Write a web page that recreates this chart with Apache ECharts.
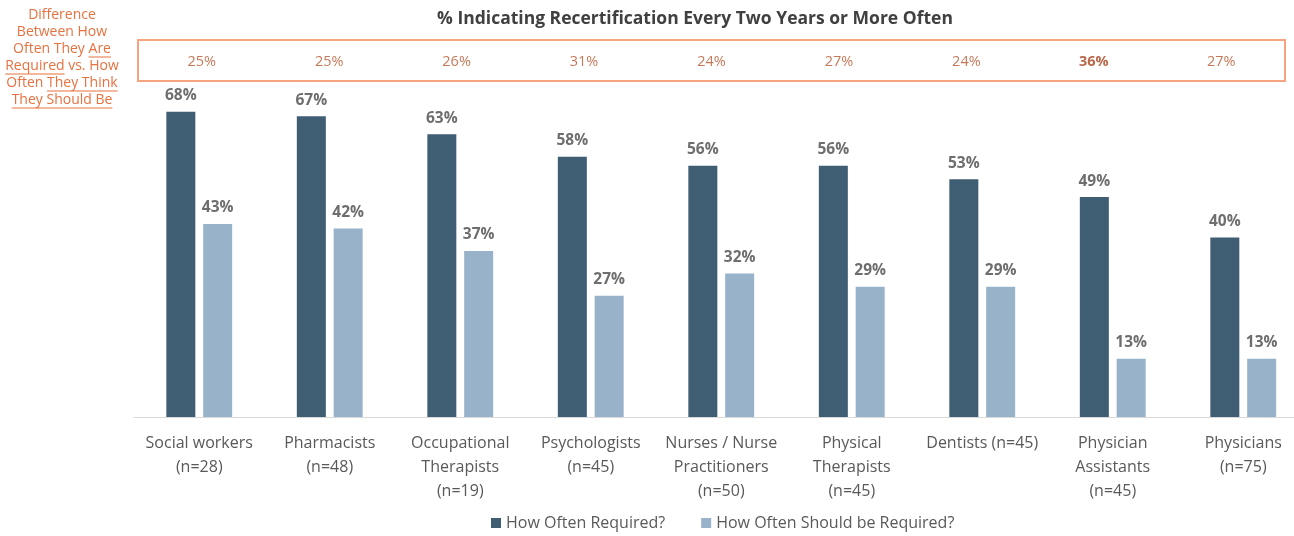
<!DOCTYPE html>
<html>
<head>
<meta charset="utf-8">
<script src="https://cdn.jsdelivr.net/npm/echarts@6/dist/echarts.min.js"></script>
<style>
  html, body { margin: 0; padding: 0; background: #fff; }
  #main { width: 1294px; height: 536px; }
</style>
</head>
<body>
<div id="main"></div>
<script>
// professions and sample sizes
var categories = [
    'Social workers\n(n=28)',
    'Pharmacists\n(n=48)',
    'Occupational\nTherapists\n(n=19)',
    'Psychologists\n(n=45)',
    'Nurses / Nurse\nPractitioners\n(n=50)',
    'Physical\nTherapists\n(n=45)',
    'Dentists (n=45)',
    'Physician\nAssistants\n(n=45)',
    'Physicians\n(n=75)'
];
var required = [68, 67, 63, 58, 56, 56, 53, 49, 40];
var shouldBe = [43, 42, 37, 27, 32, 29, 29, 13, 13];
var difference = [25, 25, 26, 31, 24, 27, 24, 36, 27];
var highlightIndex = 7; // largest gap is bolded

var FONT = '"Open Sans", "Noto Sans", sans-serif';
var DARK = '#3f5d73';
var LIGHT = '#98b3c9';
var ORANGE = '#e8713f';

var chart = echarts.init(document.getElementById('main'));

// left note, some words underlined (echarts text has no underline)
var noteLines = ['Difference', 'Between How', 'Often They Are', 'Required vs. How', 'Often They Think', 'They Should Be'];
var noteUnder = [null, null, 'Are', 'Required', 'They Think', 'They Should Be'];
var noteFont = '14px ' + FONT;
var noteX = 62, noteTop = 7, noteLH = 17;

var ctx = document.createElement('canvas').getContext('2d');
ctx.font = noteFont;
var noteGraphics = [{
    type: 'text',
    x: noteX,
    y: noteTop,
    style: {
        text: noteLines.join('\n'),
        fill: ORANGE,
        font: noteFont,
        lineHeight: noteLH,
        align: 'center'
    }
}];
noteLines.forEach(function (line, i) {
    var u = noteUnder[i];
    if (!u) return;
    var full = ctx.measureText(line).width;
    var start = line.indexOf(u);
    var x0 = noteX - full / 2 + ctx.measureText(line.slice(0, start)).width;
    var x1 = x0 + ctx.measureText(u).width;
    var y = noteTop + noteLH * i + noteLH / 2 + 7.5;
    noteGraphics.push({
        type: 'line',
        shape: {x1: x0, y1: y, x2: x1, y2: y},
        style: {stroke: ORANGE, lineWidth: 1}
    });
});

var option = {
    animation: false,
    textStyle: {fontFamily: FONT},
    title: {
        text: '% Indicating Recertification Every Two Years or More Often',
        left: 690,
        textAlign: 'center',
        top: 5,
        textStyle: {fontSize: 17.5, fontWeight: 'bold', color: '#404040', fontFamily: FONT}
    },
    legend: {
        bottom: 0,
        left: 486,
        itemWidth: 10,
        itemHeight: 10,
        itemGap: 36,
        icon: 'rect',
        textStyle: {fontSize: 16, color: '#595959', fontFamily: FONT},
        data: ['How Often Required?', 'How Often Should be Required?']
    },
    graphic: noteGraphics,
    grid: [
        {left: 134, width: 1174.5, top: 58, height: 359, outerBoundsMode: 'none'},
        {left: 138, width: 1147, top: 40, height: 41, show: true, outerBoundsMode: 'none',
            borderColor: '#f6a47f', borderWidth: 2, backgroundColor: 'transparent'}
    ],
    xAxis: [
        {
            type: 'category',
            gridIndex: 0,
            data: categories,
            axisTick: {show: false},
            axisLine: {lineStyle: {color: '#d9d9d9', width: 1}},
            axisLabel: {
                interval: 0,
                margin: 14,
                fontSize: 16,
                lineHeight: 24,
                color: '#595959',
                fontFamily: FONT
            }
        },
        {
            type: 'category',
            gridIndex: 1,
            data: categories,
            show: false
        }
    ],
    yAxis: [
        {type: 'value', gridIndex: 0, min: 0, max: 80, show: false, splitLine: {show: false}},
        {type: 'value', gridIndex: 1, min: 0, max: 1, show: false, splitLine: {show: false}}
    ],
    series: [
        {
            name: 'How Often Required?',
            type: 'bar',
            xAxisIndex: 0,
            yAxisIndex: 0,
            data: required,
            barWidth: 29,
            barGap: '27%',
            itemStyle: {color: DARK},
            label: {
                show: true,
                position: 'top',
                distance: 8,
                formatter: '{c}%',
                fontSize: 15.5,
                fontWeight: 'bold',
                color: '#6e6e6e',
                fontFamily: FONT
            }
        },
        {
            name: 'How Often Should be Required?',
            type: 'bar',
            xAxisIndex: 0,
            yAxisIndex: 0,
            data: shouldBe,
            barWidth: 29,
            barGap: '27%',
            itemStyle: {color: LIGHT},
            label: {
                show: true,
                position: 'top',
                distance: 8,
                formatter: '{c}%',
                fontSize: 15.5,
                fontWeight: 'bold',
                color: '#6e6e6e',
                fontFamily: FONT
            }
        },
        {
            name: 'difference',
            type: 'scatter',
            xAxisIndex: 1,
            yAxisIndex: 1,
            symbolSize: 0,
            silent: true,
            data: difference.map(function (v, i) {
                var bold = i === highlightIndex;
                return {
                    value: [i, 0.5],
                    label: {
                        fontWeight: bold ? 'bold' : 'normal',
                        color: bold ? '#a8421c' : '#b8562f'
                    }
                };
            }),
            label: {
                show: true,
                position: 'inside',
                offset: [0, 1.5],
                formatter: function (p) { return difference[p.dataIndex] + '%'; },
                fontSize: 14.5,
                color: '#b8562f',
                fontFamily: FONT
            }
        }
    ]
};

chart.setOption(option);
</script>
</body>
</html>
